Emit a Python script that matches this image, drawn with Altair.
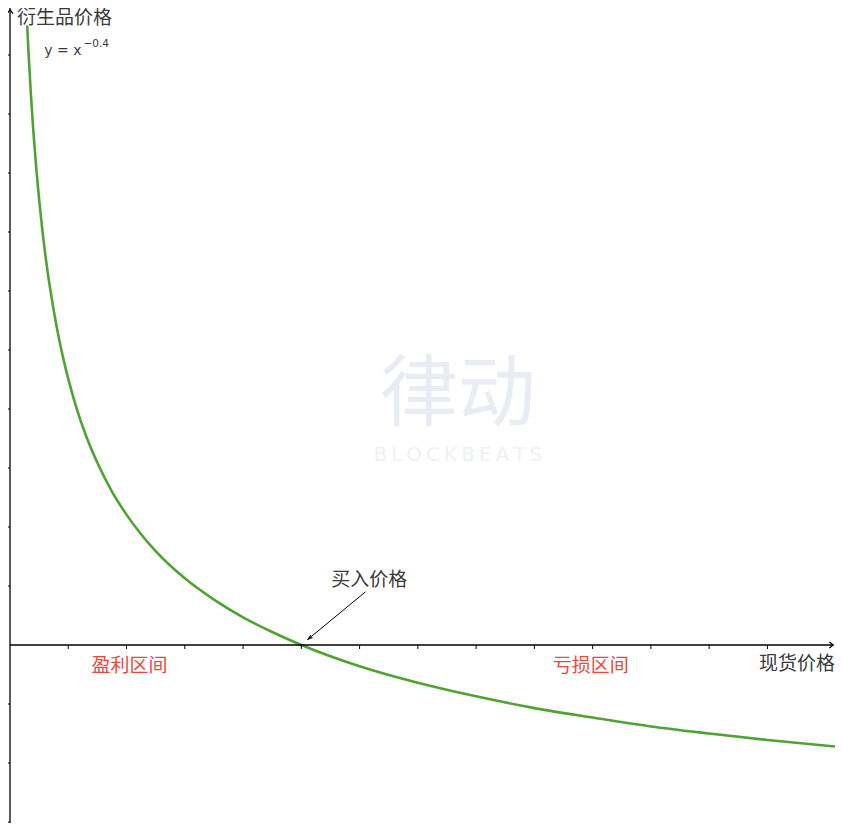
import altair as alt
import pandas as pd

# ---- data (axis units: 1 unit = one tick step) ----
curve_x = [0.295, 0.32, 0.36, 0.40, 0.45, 0.50, 0.56, 0.63, 0.71, 0.80, 0.90, 1.00,
           1.15, 1.30, 1.50, 1.75, 2.00, 2.50, 3.00, 3.50, 4.00, 4.50, 5.00,
           6.00, 7.00, 8.00, 9.00, 10.0, 11.0, 12.0, 13.0, 14.16]
curve_y = [10.50, 10.00, 9.31, 8.72, 8.09, 7.55, 6.99, 6.44, 5.91, 5.40, 4.92, 4.51,
           3.99, 3.56, 3.09, 2.60, 2.21, 1.59, 1.13, 0.77, 0.47, 0.22, 0.00,
           -0.36, -0.64, -0.87, -1.07, -1.23, -1.38, -1.50, -1.61, -1.72]
x_ticks = [1, 2, 3, 4, 5, 6, 7, 8, 9, 10, 11, 12, 13]
y_ticks = [-3, -2, -1, 1, 2, 3, 4, 5, 6, 7, 8, 9, 10]
buy_price = 5.0

X_MIN, X_MAX = -0.0343, 14.16
Y_MIN, Y_MAX = -3.017, 10.797

GREEN = "#4fa332"
RED = "#e8493c"
DARK = "#3a3a3a"
CJK = "Noto Sans CJK SC"

xs = alt.Scale(domain=[X_MIN, X_MAX], nice=False, zero=False)
ys = alt.Scale(domain=[Y_MIN, Y_MAX], nice=False, zero=False)


def X(f="x"):
    return alt.X(f"{f}:Q", scale=xs, axis=None)


def Y(f="y"):
    return alt.Y(f"{f}:Q", scale=ys, axis=None)


curve_df = pd.DataFrame({"x": curve_x, "y": curve_y})
xt_df = pd.DataFrame({"x": x_ticks, "y": [0] * len(x_ticks)})
yt_df = pd.DataFrame({"x": [0] * len(y_ticks), "y": y_ticks})

# axes lines
x_axis = alt.Chart(pd.DataFrame({"x": [0], "x2": [X_MAX - 0.03], "y": [0]})).mark_rule(
    color="black", strokeWidth=1.3).encode(x=X(), x2="x2:Q", y=Y())
y_axis = alt.Chart(pd.DataFrame({"x": [0], "y": [Y_MIN], "y2": [Y_MAX]})).mark_rule(
    color="black", strokeWidth=1.3).encode(x=X(), y=Y(), y2="y2:Q")

x_tick_marks = alt.Chart(xt_df).mark_tick(
    orient="vertical", size=4, thickness=1, yOffset=2, color="black", opacity=1
).encode(x=X(), y=Y())
y_tick_marks = alt.Chart(yt_df).mark_tick(
    orient="horizontal", size=4, thickness=1, xOffset=-2, color="black", opacity=1
).encode(x=X(), y=Y())

# arrow heads on axes
x_arrow = alt.Chart(pd.DataFrame({"x": [X_MAX - 0.03], "y": [0]})).mark_point(
    shape="M-1.3,-1L0,0L-1.3,1", filled=False, size=36, strokeWidth=1.2,
    color="black", opacity=1).encode(x=X(), y=Y())
y_arrow = alt.Chart(pd.DataFrame({"x": [0], "y": [Y_MAX - 0.03]})).mark_point(
    shape="M-1,1.3L0,0L1,1.3", filled=False, size=36, strokeWidth=1.2,
    color="black", opacity=1).encode(x=X(), y=Y())

curve = alt.Chart(curve_df).mark_line(
    color=GREEN, strokeWidth=2.6, interpolate="monotone", clip=True
).encode(x=X(), y=Y())

# annotation arrow for buy price
ann_df = pd.DataFrame({"x": [6.10], "y": [0.90], "x2": [buy_price + 0.118], "y2": [0.10]})
ann_line = alt.Chart(ann_df).mark_rule(color="black", strokeWidth=1).encode(
    x=X(), y=Y(), x2="x2:Q", y2="y2:Q")
ann_head = alt.Chart(pd.DataFrame({"x": [buy_price + 0.118], "y": [0.10]})).mark_point(
    shape="M-0.5,1.6L0,0L0.5,1.6", filled=False, size=30, strokeWidth=1.1,
    angle=231, color="black", opacity=1).encode(x=X(), y=Y())


def label(text, x, y, color, size, align="center", baseline="middle", font=CJK,
          weight="normal", dy=0):
    return alt.Chart(pd.DataFrame({"x": [x], "y": [y], "t": [text]})).mark_text(
        color=color, fontSize=size, align=align, baseline=baseline, font=font,
        fontWeight=weight, dy=dy
    ).encode(x=X(), y=Y(), text="t:N")


labels = [
    label("衍生品价格", 0.12, Y_MAX, DARK, 19, align="left", baseline="top", dy=1),
    label("y = x", 0.59, 10.0, DARK, 14, align="left", baseline="alphabetic", font="DejaVu Sans"),
    label("\u22120.4", 1.26, 10.14, DARK, 10.5, align="left", baseline="alphabetic", font="DejaVu Sans"),
    label("买入价格", 6.165, 1.10, DARK, 19),
    label("盈利区间", 2.053, -0.356, RED, 19),
    label("亏损区间", 9.966, -0.356, RED, 19),
    label("现货价格", X_MAX, -0.322, DARK, 19, align="right"),
]

# watermark
watermark = [
    label("律动", 7.686, 4.21, "#e9edf3", 78),
    label("B\u2009L\u2009O\u2009C\u2009K\u2009B\u2009E\u2009A\u2009T\u2009S", 7.686, 3.22,
          "#eef1f5", 20, font="DejaVu Sans"),
]

chart = alt.layer(
    *watermark, curve, x_axis, y_axis, x_tick_marks, y_tick_marks, x_arrow, y_arrow,
    ann_line, ann_head, *labels
).properties(
    width=827, height=815, padding=0,
    autosize=alt.AutoSizeParams(type="none"),
    background="white",
).configure_view(stroke=None)

chart.save("out.html", embed_options={"renderer": "svg", "actions": False})
